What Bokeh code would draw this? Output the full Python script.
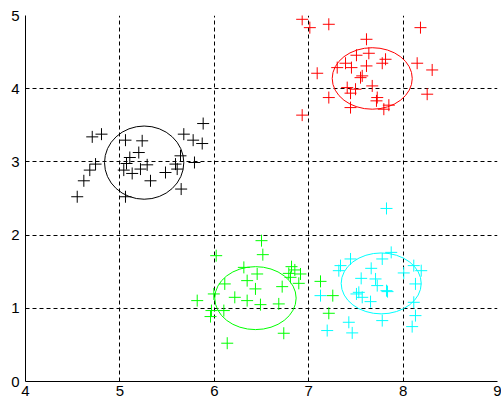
from bokeh.plotting import figure
from bokeh.models import Range1d, FixedTicker
from bokeh.embed import file_html
from bokeh.resources import INLINE

# Cluster samples
black_x = [5.882, 4.707, 4.805, 5.059, 5.236, 5.677, 5.776, 5.872, 5.642, 5.200,
           5.105, 5.070, 5.289, 5.218, 5.041, 5.130, 4.742, 4.681, 5.483, 5.589,
           5.607, 5.790, 5.324, 4.618, 4.548, 5.059, 5.649]
black_y = [3.524, 3.342, 3.379, 3.297, 3.288, 3.379, 3.297, 3.251, 3.083, 3.128,
           3.060, 2.978, 2.960, 2.902, 2.888, 2.842, 2.970, 2.888, 2.855, 2.970,
           2.902, 2.992, 2.742, 2.742, 2.524, 2.524, 2.629]

red_x = [6.931, 7.012, 7.213, 8.184, 7.612, 7.637, 7.506, 7.814, 7.779, 7.390,
         7.302, 7.453, 7.612, 8.149, 8.308, 7.090, 7.567, 7.549, 7.673, 7.408,
         7.496, 7.443, 7.213, 7.726, 8.255, 7.443, 7.796, 7.849, 6.931, 7.718]
red_y = [4.948, 4.834, 4.880, 4.834, 4.675, 4.484, 4.457, 4.402, 4.348, 4.348,
         4.288, 4.288, 4.311, 4.348, 4.256, 4.211, 4.175, 4.151, 4.038, 4.015,
         3.993, 3.939, 3.879, 3.879, 3.925, 3.742, 3.720, 3.775, 3.639, 3.834]

green_x = [6.500, 6.514, 6.020, 6.313, 6.454, 6.818, 6.789, 6.913, 6.348, 6.111,
           6.895, 6.719, 6.436, 5.995, 6.217, 6.348, 5.819, 6.489, 6.683, 5.970,
           6.101, 5.960, 6.736, 6.137, 7.125, 6.853, 6.807, 7.255, 7.213]
green_y = [1.924, 1.733, 1.719, 1.559, 1.469, 1.569, 1.477, 1.469, 1.378, 1.333,
           1.341, 1.296, 1.265, 1.196, 1.150, 1.105, 1.105, 1.050, 1.060, 0.969,
           0.969, 0.887, 0.659, 0.523, 1.368, 1.524, 1.423, 1.173, 0.932]

cyan_x = [7.824, 7.443, 7.337, 7.319, 7.779, 7.874, 7.662, 8.113, 8.192, 8.007,
          7.556, 7.708, 7.726, 7.824, 7.835, 8.131, 7.531, 7.506, 7.567, 7.655,
          7.125, 8.113, 7.779, 8.131, 8.096, 7.425, 7.461, 7.196]
cyan_y = [2.364, 1.674, 1.583, 1.514, 1.674, 1.764, 1.546, 1.583, 1.514, 1.483,
          1.409, 1.401, 1.310, 1.241, 1.228, 1.333, 1.218, 1.196, 1.150, 1.091,
          1.173, 1.082, 0.832, 0.900, 0.750, 0.809, 0.664, 0.696]

# Fitted cluster ellipses: centre and full axis lengths
ell_x = [5.257, 7.673, 6.436, 7.768]
ell_y = [2.99, 4.14, 1.139, 1.34]
ell_w = [0.84, 0.848, 0.862, 0.848]
ell_h = [1.00, 0.84, 0.86, 0.832]
colors = ["#000000", "#ff0000", "#00ff00", "#00ffff"]

x_ticks = [4, 5, 6, 7, 8, 9]
y_ticks = [0, 1, 2, 3, 4, 5]

p = figure(width=501, height=409, output_backend="svg", toolbar_location=None,
           x_range=Range1d(4, 9), y_range=Range1d(0, 5),
           min_border_left=25, min_border_right=4, min_border_top=15,
           min_border_bottom=28)
p.outline_line_color = None
p.background_fill_color = "white"
p.border_fill_color = "white"

for ax, ticks in ((p.xaxis, x_ticks), (p.yaxis, y_ticks)):
    ax.ticker = FixedTicker(ticks=ticks)
    ax.major_tick_in = 0
    ax.major_tick_out = 0
    ax.minor_tick_line_color = None
    ax.axis_line_color = "black"
    ax.axis_line_width = 1
    ax.major_label_text_font = "Liberation Sans"
    ax.major_label_text_font_size = "15px"
    ax.major_label_text_color = "black"
p.xaxis.major_label_standoff = 4
p.yaxis.major_label_standoff = 6

for g in (p.xgrid, p.ygrid):
    g.grid_line_color = "black"
    g.grid_line_dash = "4 3"
    g.grid_line_width = 1
    g.grid_line_alpha = 1.0

groups = [(black_x, black_y), (red_x, red_y), (green_x, green_y), (cyan_x, cyan_y)]
for (xs, ys), c in zip(groups, colors):
    p.scatter(xs, ys, marker="cross", size=12, line_color=c, line_width=1)

p.ellipse(x=ell_x, y=ell_y, width=ell_w, height=ell_h, fill_color=None,
          line_color=colors, line_width=1)

open("out.html", "w").write(file_html(p, INLINE))
